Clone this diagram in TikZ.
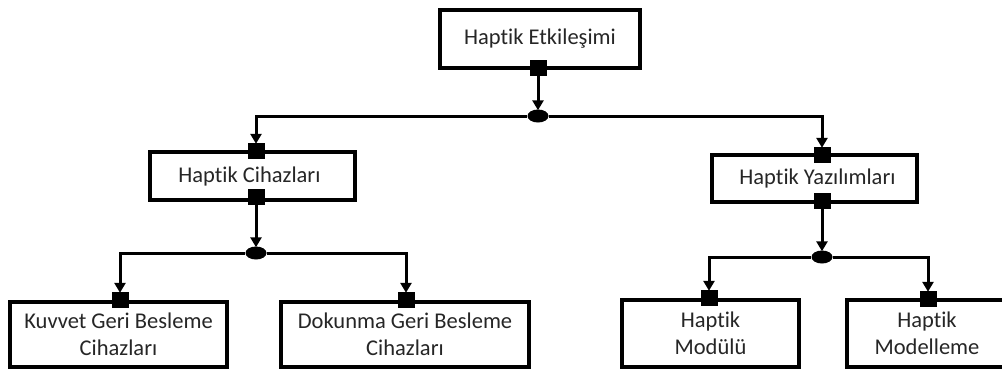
\documentclass[tikz,border=0pt]{standalone}
\usepackage{fontspec}
\setmainfont{Carlito}[Ligatures=NoCommon]
\usetikzlibrary{arrows.meta,shapes.geometric}
\begin{document}
\begin{tikzpicture}[x=1pt,y=-1pt,
  box/.style={draw=black,line width=4pt,fill=white,inner sep=0pt,align=center,
    font=\fontsize{22.5}{27.5}\selectfont,text=black!85},
  port/.style={fill=black,minimum width=17pt,minimum height=16pt,inner sep=0pt},
  junction/.style={ellipse,fill=black,minimum width=21pt,minimum height=13pt,inner sep=0pt},
  link/.style={line width=3pt,-{Triangle[width=11pt,length=10pt]},shorten >=-1pt}]
\useasboundingbox (0,0) rectangle (1002,370);
\clip (0,0) rectangle (1002,370);

% boxes
\node[box,minimum width=200pt,minimum height=58pt] (top) at (540,39) {Haptik Etkileşimi};
\node[box,minimum width=205pt,minimum height=48pt] (hc) at (252.5,176) {\hspace*{-6pt}Haptik Cihazları};
\node[box,minimum width=205pt,minimum height=47pt] (hy) at (814.5,178.5) {\hspace*{6pt}Haptik Yazılımları};
\node[box,minimum width=217pt,minimum height=65pt] (kg) at (118.5,334.5) {Kuvvet Geri Besleme\\Cihazları};
\node[box,minimum width=248pt,minimum height=65pt] (dg) at (405,334.5) {Dokunma Geri Besleme\\Cihazları};
\node[box,minimum width=177pt,minimum height=67pt] (hm) at (710.5,333.5) {Haptik\\Modülü};
\node[box,minimum width=170pt,minimum height=67pt] (hmo) at (932,333.5) {\hspace*{-10pt}Haptik\\\hspace*{-10pt}Modelleme};

% ports on the box borders
\node[port] (top-o) at (538,68) {};
\node[port] (hc-i) at (256,151) {};
\node[port] (hc-o) at (256,197) {};
\node[port] (hy-i) at (822,155) {};
\node[port] (hy-o) at (822,201) {};
\node[port] (kg-i) at (120,300) {};
\node[port] (dg-i) at (406,300) {};
\node[port] (hm-i) at (709,298) {};
\node[port] (hmo-i) at (928,299) {};

% junctions
\node[junction] (j1) at (538,116) {};
\node[junction] (j2) at (256,253) {};
\node[junction] (j3) at (822,257) {};

% connectors
\draw[link] (top-o) -- (j1);
\draw[link] (j1) -| (hc-i);
\draw[link] (j1) -| (hy-i);
\draw[link] (hc-o) -- (j2);
\draw[link] (j2) -| (kg-i);
\draw[link] (j2) -| (dg-i);
\draw[link] (hy-o) -- (j3);
\draw[link] (j3) -| (hm-i);
\draw[link] (j3) -| (hmo-i);
\end{tikzpicture}
\end{document}
